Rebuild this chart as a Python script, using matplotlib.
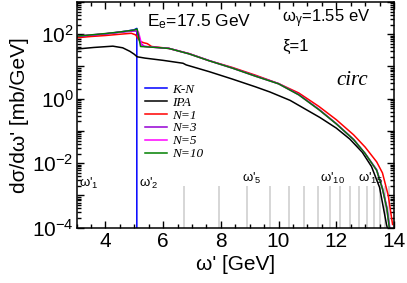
import matplotlib
matplotlib.use('Agg')
import matplotlib.pyplot as plt
from matplotlib.ticker import MultipleLocator, LogLocator, NullFormatter

plt.rcParams['font.family'] = ['Liberation Sans', 'DejaVu Sans']
plt.rcParams['mathtext.fontset'] = 'custom'
plt.rcParams['mathtext.rm'] = 'Liberation Sans'
plt.rcParams['mathtext.it'] = 'Liberation Sans:italic'
plt.rcParams['mathtext.bf'] = 'Liberation Sans:bold'
plt.rcParams['mathtext.default'] = 'regular'

# ---- data ----
kn_x = [3.0, 3.5, 4.0, 4.5, 4.8, 5.0, 5.09, 5.09]
kn_y = [85, 93, 102, 117, 128, 138, 152, 1e-4]

ipa_x = [3.0, 3.6, 4.26, 4.6, 4.85, 5.0, 5.1, 5.37, 6.0, 6.69, 6.8, 7.6, 8.4, 9.2, 9.7,
         10.4, 11.0, 11.43, 12.0, 12.47, 12.9, 13.22, 13.5, 13.74, 13.82]
ipa_y = [34.7, 38.9, 42.7, 38.0, 29.5, 24.0, 20.0, 18.2, 15.5, 12.6, 11.2, 6.9, 4.07, 2.34, 1.62,
         0.89, 0.437, 0.263, 0.123, 0.056, 0.0219, 7.9e-3, 1.78e-3, 1.26e-4, 6.3e-5]

n1_x = [3.0, 3.5, 4.0, 4.5, 4.9, 5.05, 5.2, 5.35, 5.45, 5.6, 6.2, 6.9, 7.6, 8.4, 9.2, 10.0,
        10.7, 11.4, 12.0, 12.6, 13.0, 13.4, 13.6, 13.8, 13.95]
n1_y = [77.6, 85.1, 91.2, 100, 107, 95.5, 60.3, 53.7, 51.3, 41.7, 36.3, 25.1, 15.1, 9.33, 5.37, 2.95,
        1.51, 0.575, 0.224, 0.0759, 0.0316, 0.011, 5.0e-3, 1.0e-3, 1.26e-4]

n3_x = [3.0, 3.5, 4.0, 4.5, 5.0, 5.08, 5.25, 5.35, 5.6, 6.2, 6.9, 7.6, 8.4, 9.2, 10.0, 10.7,
        11.4, 12.0, 12.6, 13.0, 13.4, 13.6, 13.75, 13.87]
n3_y = [86, 94, 103, 115, 126, 125, 50, 42, 40, 36.5, 25.0, 15.2, 9.0, 5.1, 2.95, 1.36,
        0.47, 0.17, 0.055, 0.020, 6.3e-3, 1.7e-3, 4.5e-4, 8e-5]

n5_x = [3.0, 3.5, 4.0, 4.5, 5.0, 5.1, 5.15, 5.27, 5.6, 6.2, 6.9, 7.6, 8.4, 9.2, 10.0, 10.7,
        11.4, 12.0, 12.6, 13.0, 13.4, 13.6, 13.75, 13.85]
n5_y = [87, 95, 104, 117, 133, 132, 115, 43, 40, 36.3, 24.6, 15.0, 8.9, 5.0, 2.9, 1.32,
        0.457, 0.166, 0.054, 0.020, 6.0e-3, 1.6e-3, 4.0e-4, 8e-5]

n10_x = [3.0, 3.5, 4.0, 4.5, 5.0, 5.1, 5.22, 5.6, 6.2, 6.9, 7.6, 8.4, 9.2, 10.0, 10.7,
         11.4, 12.0, 12.6, 13.0, 13.4, 13.6, 13.75, 13.85]
n10_y = [87, 95.5, 105, 117.5, 135, 145, 41.7, 39.8, 36.3, 24.6, 15.0, 8.9, 5.0, 2.9, 1.32,
         0.457, 0.166, 0.054, 0.020, 6.0e-3, 1.6e-3, 4.0e-4, 8e-5]

edge_x = [6.73, 7.94, 8.90, 9.70, 10.36, 10.89, 11.38, 11.77, 12.14, 12.47, 12.78,
          13.05, 13.29, 13.50, 13.68, 13.84]
edge_top = 1.9e-3

edge_labels = ["ω'$_{1}$", "ω'$_{2}$", "ω'$_{5}$", "ω'$_{10}$", "ω'$_{15}$"]
edge_label_x = [3.1, 5.16, 8.72, 11.43, 12.75]
edge_label_y = [2.4e-3, 2.4e-3, 3.4e-3, 3.4e-3, 3.4e-3]

series = [
    (kn_x, kn_y, 'K-N', '#0000ff'),
    (ipa_x, ipa_y, 'IPA', '#000000'),
    (n1_x, n1_y, 'N=1', '#ff0000'),
    (n3_x, n3_y, 'N=3', '#9400d3'),
    (n5_x, n5_y, 'N=5', '#ff00ff'),
    (n10_x, n10_y, 'N=10', '#008000'),
]

# ---- figure ----
fig = plt.figure(figsize=(4.07, 2.83), dpi=100)
ax = fig.add_axes([76.5 / 407, 1 - 227.7 / 283, (394 - 76.5) / 407, (227.7 - 2) / 283])

for xv in edge_x:
    ax.vlines(xv, 1e-4, edge_top, color='#d6d6d6', lw=1.4, zorder=1)

for xs, ys, lab, col in series:
    ax.plot(xs, ys, color=col, lw=1.1, label=lab, zorder=2)

ax.set_yscale('log')
ax.set_xlim(3, 14)
ax.set_ylim(1e-4, 1e3)

ax.xaxis.set_major_locator(MultipleLocator(2))
ax.xaxis.set_minor_locator(MultipleLocator(0.5))
ax.yaxis.set_minor_locator(LogLocator(base=10, subs=range(2, 10), numticks=20))
ax.yaxis.set_minor_formatter(NullFormatter())
yticks = [1e-4, 1e-3, 1e-2, 1e-1, 1e0, 1e1, 1e2, 1e3]
ylabels = {1e-4: '$10^{-4}$', 1e-2: '$10^{-2}$', 1e0: '$10^{0}$', 1e2: '$10^{2}$'}
ax.set_yticks(yticks)
ax.set_yticklabels([ylabels.get(v, '') for v in yticks])

ax.tick_params(which='both', direction='in', top=True, right=True, width=1.0)
ax.tick_params(which='major', length=5, labelsize=15)
ax.tick_params(axis='y', which='major', pad=2)
ax.tick_params(axis='x', which='major', pad=3)
ax.tick_params(which='minor', length=2.8)
for s in ax.spines.values():
    s.set_linewidth(1.1)

ax.set_xlabel("ω' [GeV]", fontsize=15, labelpad=3)
ax.set_ylabel("dσ/dω' [mb/GeV]", fontsize=15)
ax.yaxis.set_label_coords((29 - 76.5) / 317.5, 0.5)

ax.text(0.222, 0.912, "E$_{e}$=17.5 GeV", transform=ax.transAxes, fontsize=12.5, va='center', ha='left')
ax.text(0.648, 0.925, "ω$_{γ}$=1.55 eV", transform=ax.transAxes, fontsize=12, va='center', ha='left')
ax.text(0.648, 0.805, "ξ=1", transform=ax.transAxes, fontsize=12, va='center', ha='left')
ax.text(0.82, 0.65, "circ", transform=ax.transAxes, fontsize=15, va='center', ha='left',
        family='Liberation Serif', style='italic')

for t, xv, yv in zip(edge_labels, edge_label_x, edge_label_y):
    ax.text(xv, yv, t, fontsize=9.5, va='center', ha='left')

leg = ax.legend(loc='upper left', bbox_to_anchor=(145 / 407, 1 - 83.5 / 283), bbox_transform=fig.transFigure,
                frameon=False, prop={'family': 'Liberation Serif', 'style': 'italic', 'size': 9.5},
                handlelength=1.67, handletextpad=0.4, labelspacing=0.05, borderpad=0, borderaxespad=0)

fig.savefig('out.png', dpi=100)
